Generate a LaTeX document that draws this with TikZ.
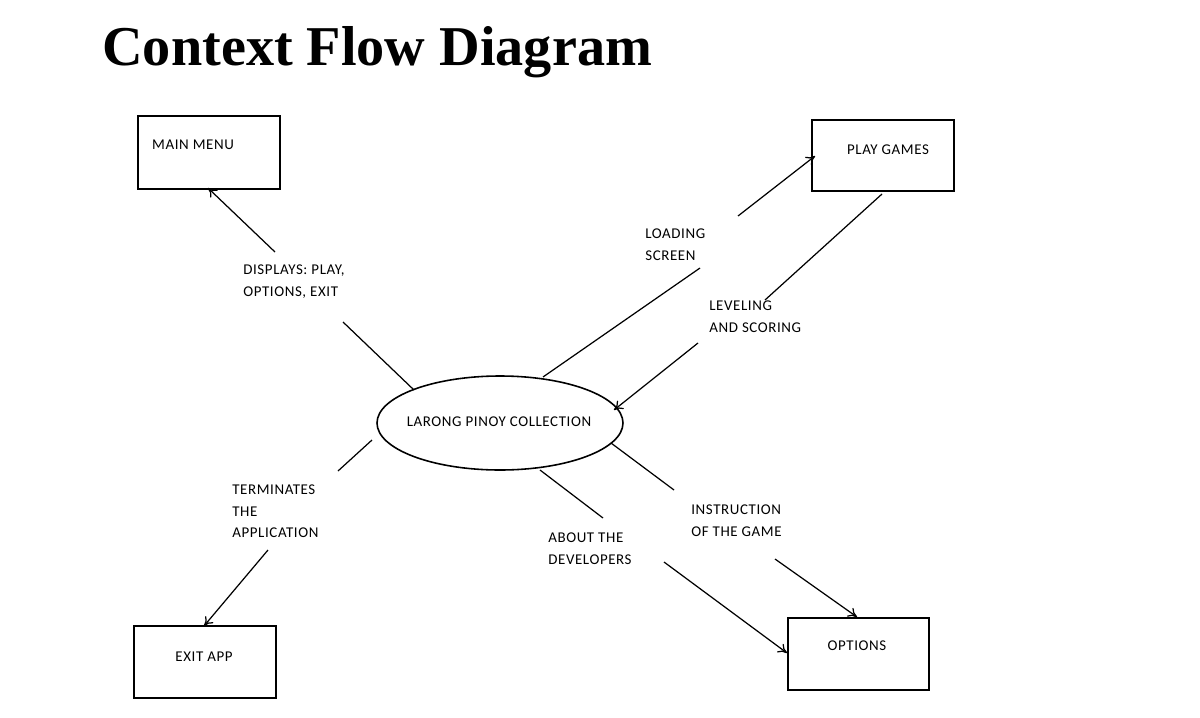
\documentclass[tikz,border=0pt]{standalone}
\usepackage{fontspec}
\setmainfont{Carlito}[LetterSpace=4]
\newfontfamily\ttl{Liberation Serif}
\usetikzlibrary{arrows.meta}
\begin{document}
\begin{tikzpicture}[x=0.02cm,y=-0.02cm,
  box/.style={draw,line width=0.9pt},
  lbl/.style={anchor=north west,align=left,font=\fontsize{8.5}{12.5}\selectfont,inner sep=0pt},
  tx/.style={font=\fontsize{8.5}{10}\selectfont},
  ln/.style={line width=0.7pt},
  ar/.style={line width=0.7pt,-{To[length=5pt,width=6pt]}}]
\useasboundingbox (0,0) rectangle (1200,717);
\node[anchor=west,font=\ttl\bfseries\fontsize{32}{34}\selectfont,inner sep=0pt] (title) at (102,52) {Context Flow Diagram};
\draw[box] (138,116) rectangle (280,189);
\node[anchor=west,tx] (mm) at (146,145) {MAIN MENU};
\draw[box] (812,120) rectangle (954,191);
\node[tx] (pg) at (888,150) {PLAY GAMES};
\draw[box] (134,626) rectangle (276,698);
\node[tx] (ea) at (204,657) {EXIT APP};
\draw[box] (788,618) rectangle (929,690);
\node[tx] (op) at (857,646) {OPTIONS};
\draw[box] (500,423) ellipse [x radius=123, y radius=47];
\node[tx] (lp) at (499,422) {LARONG PINOY COLLECTION};
\coordinate (a1) at (414,390); \coordinate (a2) at (343,322);
\coordinate (a3) at (275,252); \coordinate (a4) at (208,188);
\draw[ln] (a1)--(a2); \draw[ar] (a3)--(a4);
\coordinate (b1) at (543,377); \coordinate (b2) at (700,268);
\coordinate (b3) at (738,216); \coordinate (b4) at (815,156);
\draw[ln] (b1)--(b2); \draw[ar] (b3)--(b4);
\coordinate (c1) at (882,194); \coordinate (c2) at (765,300);
\coordinate (c3) at (698,343); \coordinate (c4) at (614,410);
\draw[ln] (c1)--(c2); \draw[ar] (c3)--(c4);
\coordinate (d1) at (372,440); \coordinate (d2) at (338,471);
\coordinate (d3) at (268,550); \coordinate (d4) at (204,626);
\draw[ln] (d1)--(d2); \draw[ar] (d3)--(d4);
\coordinate (e1) at (540,470); \coordinate (e2) at (603,518);
\coordinate (e3) at (664,562); \coordinate (e4) at (787,653);
\draw[ln] (e1)--(e2); \draw[ar] (e3)--(e4);
\coordinate (f1) at (611,443); \coordinate (f2) at (674,490);
\coordinate (f3) at (775,559); \coordinate (f4) at (857,617);
\draw[ln] (f1)--(f2); \draw[ar] (f3)--(f4);
\node[lbl] (l1) at (243,264) {DISPLAYS: PLAY,\\OPTIONS, EXIT};
\node[lbl] (l2) at (645,228) {LOADING\\SCREEN};
\node[lbl] (l3) at (709,300) {LEVELING\\AND SCORING};
\node[lbl] (l4) at (232,484) {TERMINATES\\THE\\APPLICATION};
\node[lbl] (l5) at (548,532) {ABOUT THE\\DEVELOPERS};
\node[lbl] (l6) at (691,504) {INSTRUCTION\\OF THE GAME};
\end{tikzpicture}
\end{document}
